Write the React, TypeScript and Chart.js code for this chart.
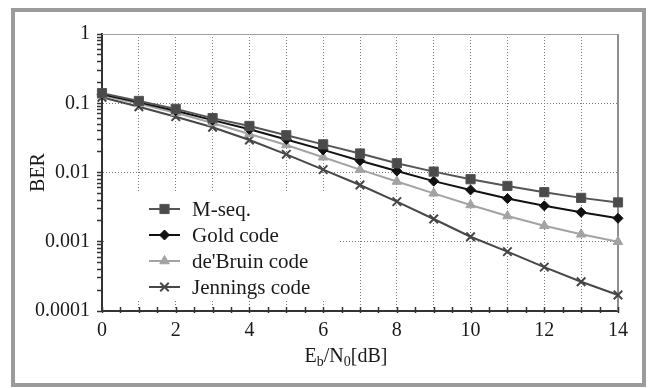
import React, { useEffect, useRef } from 'react';
import { Chart, registerables } from 'chart.js';

Chart.register(...registerables);

const xValues = [0, 1, 2, 3, 4, 5, 6, 7, 8, 9, 10, 11, 12, 13, 14];
const xTickLabels = ['0', '2', '4', '6', '8', '10', '12', '14'];
const yMajorValues = [0.0001, 0.001, 0.01, 0.1, 1];
const yTickLabels = ['0.0001', '0.001', '0.01', '0.1', '1'];
const seriesNames = ['M-seq.', 'Gold code', "de'Bruin code", 'Jennings code'];

const mSeq = [0.14, 0.108, 0.083, 0.061, 0.047, 0.0345, 0.0255, 0.0188, 0.0136, 0.0103, 0.008, 0.0064, 0.0052, 0.0043, 0.0037];
const gold = [0.135, 0.103, 0.078, 0.057, 0.042, 0.03, 0.0212, 0.0148, 0.0105, 0.0075, 0.0056, 0.0042, 0.0033, 0.00266, 0.00218];
const deBruin = [0.13, 0.098, 0.073, 0.052, 0.036, 0.025, 0.0166, 0.011, 0.0074, 0.005, 0.0034, 0.00235, 0.0017, 0.00128, 0.001];
const jennings = [0.122, 0.089, 0.064, 0.045, 0.0295, 0.0183, 0.011, 0.0066, 0.0038, 0.00213, 0.00118, 0.00072, 0.00043, 0.000265, 0.00017];

const FONT = '"Liberation Serif", "Times New Roman", Times, "DejaVu Serif", serif';
const TEXT = '#1a1a1a';

type Sty = { line: string; fill: string; shape: string; r: number; pbw: number };
const styles: Sty[] = [
  { line: '#555555', fill: '#4a4a4a', shape: 'rect', r: 6.5, pbw: 1 },
  { line: '#111111', fill: '#111111', shape: 'rectRot', r: 5, pbw: 1 },
  { line: '#a3a3a3', fill: '#a3a3a3', shape: 'triangle', r: 5.5, pbw: 1 },
  { line: '#474747', fill: '#474747', shape: 'crossRot', r: 6, pbw: 2 },
];

function drawMarker(ctx: CanvasRenderingContext2D, s: Sty, x: number, y: number) {
  ctx.save();
  ctx.fillStyle = s.fill;
  ctx.strokeStyle = s.line;
  ctx.lineWidth = s.pbw;
  ctx.beginPath();
  const r = s.r;
  if (s.shape === 'rect') {
    const h = r * Math.SQRT1_2;
    ctx.rect(x - h, y - h, 2 * h, 2 * h);
    ctx.fill();
    ctx.stroke();
  } else if (s.shape === 'rectRot') {
    ctx.moveTo(x, y - r);
    ctx.lineTo(x + r, y);
    ctx.lineTo(x, y + r);
    ctx.lineTo(x - r, y);
    ctx.closePath();
    ctx.fill();
    ctx.stroke();
  } else if (s.shape === 'triangle') {
    let a = 0;
    ctx.moveTo(x + Math.sin(a) * r, y - Math.cos(a) * r);
    a += (2 * Math.PI) / 3;
    ctx.lineTo(x + Math.sin(a) * r, y - Math.cos(a) * r);
    a += (2 * Math.PI) / 3;
    ctx.lineTo(x + Math.sin(a) * r, y - Math.cos(a) * r);
    ctx.closePath();
    ctx.fill();
    ctx.stroke();
  } else {
    const d = r * Math.SQRT1_2;
    ctx.moveTo(x - d, y - d);
    ctx.lineTo(x + d, y + d);
    ctx.moveTo(x + d, y - d);
    ctx.lineTo(x - d, y + d);
    ctx.stroke();
  }
  ctx.restore();
}

const framePlugin = {
  id: 'frame',
  beforeDraw(chart: any) {
    const ctx = chart.ctx as CanvasRenderingContext2D;
    ctx.save();
    ctx.fillStyle = '#ffffff';
    ctx.fillRect(0, 0, chart.width, chart.height);
    ctx.strokeStyle = '#9b9b9b';
    ctx.lineWidth = 4;
    ctx.strokeRect(13, 10, 631, 375);
    ctx.restore();
  },
  beforeDatasetsDraw(chart: any) {
    const ctx = chart.ctx as CanvasRenderingContext2D;
    const { top, right, bottom, left } = chart.chartArea;
    const xs = chart.scales.x;
    ctx.save();
    ctx.strokeStyle = '#a0a0a0';
    ctx.lineWidth = 1;
    ctx.beginPath();
    ctx.moveTo(left, top + 0.5);
    ctx.lineTo(right, top + 0.5);
    ctx.stroke();
    ctx.lineWidth = 2;
    ctx.strokeStyle = '#8f8f8f';
    ctx.beginPath();
    ctx.moveTo(right, top);
    ctx.lineTo(right, bottom);
    ctx.stroke();
    ctx.strokeStyle = '#333333';
    ctx.lineWidth = 1.5;
    for (let v = xs.min; v <= xs.max + 1e-9; v += 0.5) {
      const px = Math.round(xs.getPixelForValue(v)) + 0.5;
      ctx.beginPath();
      ctx.moveTo(px, bottom - 4);
      ctx.lineTo(px, bottom + 2);
      ctx.stroke();
    }
    ctx.restore();
  },
  afterDatasetsDraw(chart: any) {
    const ctx = chart.ctx as CanvasRenderingContext2D;
    ctx.save();
    ctx.fillStyle = '#ffffff';
    ctx.fillRect(105, 192, 233, 108);
    const rows = [209, 235, 261, 287];
    chart.data.datasets.forEach((ds: any, i: number) => {
      const s = styles[i];
      const y = rows[i];
      ctx.strokeStyle = s.line;
      ctx.lineWidth = 2;
      ctx.beginPath();
      ctx.moveTo(149, y);
      ctx.lineTo(180, y);
      ctx.stroke();
      drawMarker(ctx, s, 164.5, y);
      ctx.fillStyle = TEXT;
      ctx.font = `21px ${FONT}`;
      ctx.textBaseline = 'middle';
      ctx.textAlign = 'left';
      ctx.fillText(ds.label, 192, y + 1);
    });
    const cy = 357;
    const big = `20px ${FONT}`;
    const small = `14px ${FONT}`;
    const parts: [string, string, number][] = [
      ['E', big, 0],
      ['b', small, 5],
      ['/N', big, 0],
      ['0', small, 5],
      ['[dB]', big, 0],
    ];
    let total = 0;
    parts.forEach(([t, f]) => {
      ctx.font = f;
      total += ctx.measureText(t).width;
    });
    let x = 346 - total / 2;
    ctx.fillStyle = TEXT;
    ctx.textBaseline = 'middle';
    ctx.textAlign = 'left';
    parts.forEach(([t, f, dy]) => {
      ctx.font = f;
      ctx.fillText(t, x, cy + dy);
      x += ctx.measureText(t).width;
    });
    ctx.restore();
  },
};

export default function App() {
  const ref = useRef<HTMLCanvasElement>(null);
  useEffect(() => {
    if (!ref.current) return;
    let chart: Chart | null = null;
    let cancelled = false;
    const series = [mSeq, gold, deBruin, jennings];
    const yTicks: number[] = [];
    for (let d = 0; d < yMajorValues.length - 1; d++) {
      for (let m = 1; m <= 9; m++) yTicks.push(yMajorValues[d] * m);
    }
    yTicks.push(yMajorValues[yMajorValues.length - 1]);
    const isMajor = (v: number) => yMajorValues.some((m) => Math.abs(v - m) / m < 1e-6);
    const build = () => {
      if (cancelled || !ref.current) return;
      chart = new Chart(ref.current, {
        type: 'line',
        data: {
          datasets: series.map((vals, i) => ({
            label: seriesNames[i],
            data: xValues.map((x, j) => ({ x, y: vals[j] })),
            borderColor: styles[i].line,
            backgroundColor: styles[i].fill,
            pointBackgroundColor: styles[i].fill,
            pointBorderColor: styles[i].line,
            pointStyle: styles[i].shape as any,
            pointRadius: styles[i].r,
            pointBorderWidth: styles[i].pbw,
            borderWidth: 2,
            tension: 0,
            fill: false,
            clip: false as any,
          })),
        },
        options: {
          animation: false,
          responsive: false,
          events: [],
          layout: { padding: { left: 0, right: 30, top: 34, bottom: 0 } },
          plugins: { legend: { display: false }, tooltip: { enabled: false } },
          scales: {
            x: {
              type: 'linear',
              min: 0,
              max: 14,
              afterFit: (s: any) => { s.height = 77; },
              ticks: {
                stepSize: 1,
                autoSkip: false,
                maxRotation: 0,
                padding: 8,
                color: TEXT,
                font: { family: FONT, size: 20 },
                callback: (v: any) => (Number(v) % 2 === 0 ? xTickLabels[Number(v) / 2] : ''),
              },
              grid: {
                drawTicks: false,
                lineWidth: 1,
                color: (c: any) => (c.tick && c.tick.value > 0 && c.tick.value < 14 ? '#7a7a7a' : 'rgba(0,0,0,0)'),
              },
              border: { display: true, color: '#333333', width: 2, dash: [1, 2] },
            },
            y: {
              type: 'logarithmic',
              min: 0.0001,
              max: 1,
              afterFit: (s: any) => { s.width = 102; },
              afterBuildTicks: (s: any) => { s.ticks = yTicks.map((v) => ({ value: v, major: isMajor(v) })); },
              ticks: {
                autoSkip: false,
                padding: 7,
                color: TEXT,
                font: { family: FONT, size: 20 },
                callback: (v: any) => {
                  const idx = yMajorValues.findIndex((m) => Math.abs(Number(v) - m) / m < 1e-6);
                  return idx >= 0 ? yTickLabels[idx] : '';
                },
              },
              grid: {
                drawTicks: true,
                tickLength: 5,
                tickColor: '#333333',
                tickWidth: 1.5,
                lineWidth: 1,
                color: (c: any) => {
                  const v = c.tick ? c.tick.value : 0;
                  return isMajor(v) && v > 0.00011 && v < 0.9 ? '#7a7a7a' : 'rgba(0,0,0,0)';
                },
              },
              border: { display: true, color: '#333333', width: 2, dash: [1, 2] },
              title: {
                display: true,
                text: 'BER',
                color: TEXT,
                font: { family: FONT, size: 20 },
                padding: { top: 27, bottom: 0 },
              },
            },
          },
        },
        plugins: [framePlugin],
      });
    };
    const fonts: any = (document as any).fonts;
    if (fonts && fonts.load) {
      Promise.all([
        fonts.load('20px "Liberation Serif"'),
        fonts.load('14px "Liberation Serif"'),
      ]).then(build, build);
    } else {
      build();
    }
    return () => {
      cancelled = true;
      if (chart) chart.destroy();
    };
  }, []);
  return (
    <div style={{ position: 'fixed', left: 0, top: 0, width: 648, height: 388 }}>
      <canvas ref={ref} width={648} height={388} style={{ display: 'block', width: 648, height: 388 }} />
    </div>
  );
}
